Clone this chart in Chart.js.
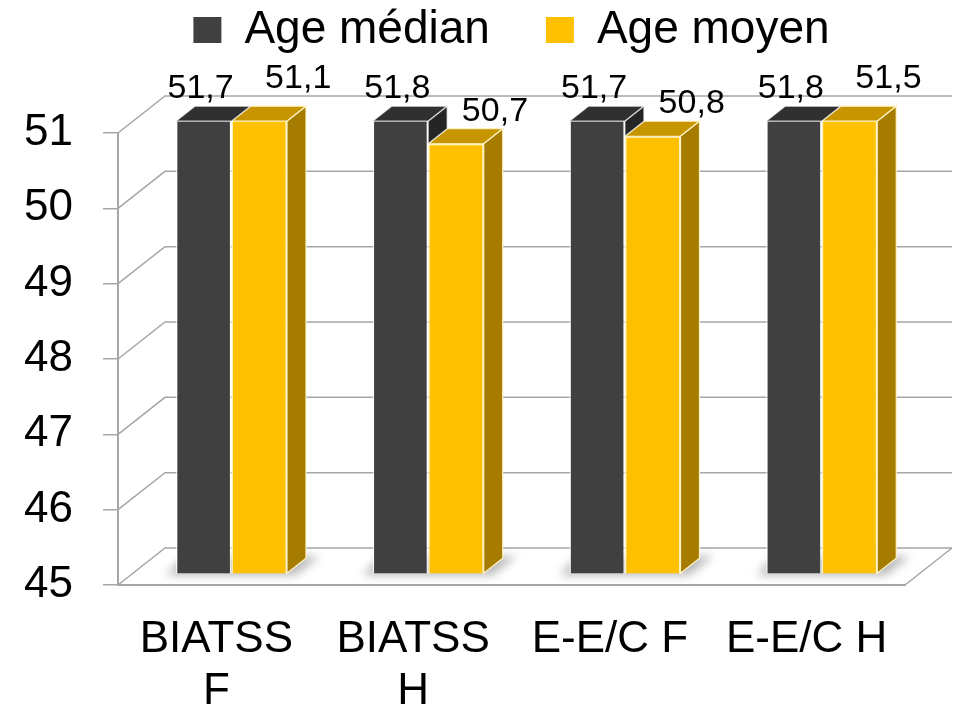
<!DOCTYPE html>
<html>
<head>
<meta charset="utf-8">
<script src="https://cdn.jsdelivr.net/npm/chart.js@4/dist/chart.umd.min.js"></script>
<style>
  html, body { margin: 0; padding: 0; background: #fff; }
  canvas { display: block; }
</style>
</head>
<body>
<canvas id="ageChart" width="955" height="707"></canvas>
<script>
const categories = [['BIATSS', 'F'], ['BIATSS', 'H'], 'E-E/C F', 'E-E/C H'];
const seriesNames = ['Age médian', 'Age moyen'];
const medianAges = [51.7, 51.8, 51.7, 51.8];
const meanAges = [51.1, 50.7, 50.8, 51.5];
const yTicks = [45, 46, 47, 48, 49, 50, 51];

const FONT = '"Liberation Sans", Arial, sans-serif';
const GRID = '#a6a6a6';
const WALL = { x: 47, y: -37 };        // depth of the 3D box
const BAR_SHIFT = 0.32;                // bars stand a third of the way back
const BAR_DEPTH = { x: 19, y: -15 };
const LEGEND_GAP = 70;
const LABEL_DX = [-3, 39];
const LABEL_LIFT = [0, 10];            // extra lift for clipped yellow bars

const faces = [
    { front: '#404040', top: '#303030', side: '#252525', edge: 'rgba(255,255,255,0.7)' },
    { front: '#ffc000', top: '#c79500', side: '#a57b00', edge: '#fff4c4' }
];

function poly(ctx, pts, fill, stroke) {
    ctx.beginPath();
    pts.forEach(([x, y], i) => i ? ctx.lineTo(x, y) : ctx.moveTo(x, y));
    ctx.closePath();
    ctx.fillStyle = fill;
    ctx.fill();
    if (stroke) {
        ctx.strokeStyle = stroke;
        ctx.lineWidth = 1.2;
        ctx.stroke();
    }
}

const box3d = {
    id: 'box3d',
    beforeInit: chart => {
        // leave room under the legend for the value labels
        const fit = chart.legend.fit;
        chart.legend.fit = function () {
            fit.call(this);
            this.height += LEGEND_GAP;
        };
    },
    beforeDatasetsDraw: chart => {
        const ctx = chart.ctx;
        const a = chart.chartArea;
        const y = chart.scales.y;

        ctx.save();
        ctx.strokeStyle = GRID;
        ctx.lineWidth = 1.5;
        ctx.beginPath();
        yTicks.forEach(v => {
            const py = y.getPixelForValue(v);
            ctx.moveTo(a.left, py);
            ctx.lineTo(a.left + WALL.x, py + WALL.y);
            ctx.lineTo(a.right + WALL.x, py + WALL.y);
        });
        ctx.moveTo(a.right, a.bottom);
        ctx.lineTo(a.right + WALL.x, a.bottom + WALL.y);
        ctx.stroke();

        // soft shadows on the floor
        const sx = WALL.x * BAR_SHIFT, sy = WALL.y * BAR_SHIFT;
        const dark = chart.getDatasetMeta(0).data;
        const gold = chart.getDatasetMeta(1).data;
        ctx.filter = 'blur(5px)';
        dark.forEach((bar, i) => {
            const l = bar.x - bar.width / 2 + sx - 10;
            const r = gold[i].x + gold[i].width / 2 + sx + 8;
            const b = a.bottom + sy + 2;
            poly(ctx, [[l, b], [r, b], [r + BAR_DEPTH.x + 6, b + BAR_DEPTH.y - 4], [l + BAR_DEPTH.x, b + BAR_DEPTH.y - 4]],
                'rgba(0,0,0,0.28)');
        });
        ctx.restore();
    },
    beforeDatasetDraw: chart => {
        chart.ctx.save();
        chart.ctx.translate(WALL.x * BAR_SHIFT, WALL.y * BAR_SHIFT);
    },
    afterDatasetDraw: (chart, args) => {
        const ctx = chart.ctx;
        const a = chart.chartArea;
        const c = faces[args.index];
        const dx = BAR_DEPTH.x, dy = BAR_DEPTH.y;
        // the bar standing to the right hides the lower part of the side face
        const next = args.index === 0 ? chart.getDatasetMeta(1).data : null;

        args.meta.data.forEach((bar, i) => {
            const top = Math.max(bar.y, a.top);
            const l = bar.x - bar.width / 2, r = bar.x + bar.width / 2;
            const b = next ? Math.max(next[i].y, a.top) : Math.min(bar.base, a.bottom);
            poly(ctx, [[l, top], [r, top], [r + dx, top + dy], [l + dx, top + dy]], c.top, c.edge);
            if (b > top) {
                poly(ctx, [[r, top], [r + dx, top + dy], [r + dx, b + dy], [r, b]], c.side, c.edge);
            }
        });
        ctx.restore();
    },
    afterDatasetsDraw: chart => {
        const ctx = chart.ctx;
        const y = chart.scales.y;
        const sx = WALL.x * BAR_SHIFT;

        ctx.save();
        ctx.font = '34px ' + FONT;
        ctx.fillStyle = '#000';
        ctx.textAlign = 'center';
        ctx.textBaseline = 'middle';
        [medianAges, meanAges].forEach((values, di) => {
            chart.getDatasetMeta(di).data.forEach((bar, i) => {
                const v = values[i];
                const py = y.getPixelForValue(Math.min(v, y.max));
                const lift = v > y.max ? LABEL_LIFT[di] : 0;
                ctx.fillText(v.toFixed(1).replace('.', ','), bar.x + sx + LABEL_DX[di], py - 44 - lift);
            });
        });
        ctx.restore();
    }
};

const chart = new Chart(document.getElementById('ageChart'), {
    type: 'bar',
    data: {
        labels: categories,
        datasets: [{
            label: seriesNames[0],
            data: medianAges,
            backgroundColor: faces[0].front,
            borderColor: faces[0].edge,
            borderWidth: 1.5
        }, {
            label: seriesNames[1],
            data: meanAges,
            backgroundColor: faces[1].front,
            borderColor: faces[1].edge,
            borderWidth: 1.5
        }]
    },
    options: {
        responsive: false,
        animation: false,
        layout: { padding: { top: -49, left: 0, right: 50, bottom: 0 } },
        datasets: { bar: { categoryPercentage: 0.565, barPercentage: 1 } },
        plugins: {
            legend: {
                fullSize: false,
                labels: {
                    color: '#000',
                    font: { size: 46, family: FONT },
                    boxWidth: 28,
                    boxHeight: 26,
                    padding: 56,
                    generateLabels: c => Chart.defaults.plugins.legend.labels.generateLabels(c)
                        .map(item => ({ ...item, lineWidth: 0 }))
                }
            },
            tooltip: { enabled: false }
        },
        scales: {
            x: {
                grid: { display: false, drawTicks: false },
                border: { display: true, color: GRID, width: 2 },
                ticks: {
                    color: '#000',
                    font: { size: 44, family: FONT, lineHeight: 1.2 },
                    padding: 28,
                    maxRotation: 0,
                    autoSkip: false
                },
                afterFit: s => { s.height = 122; }
            },
            y: {
                min: yTicks[0],
                max: yTicks[yTicks.length - 1],
                grid: { drawOnChartArea: false, color: GRID, lineWidth: 1.5, tickLength: 15 },
                border: { display: true, color: GRID, width: 2 },
                ticks: {
                    stepSize: 1,
                    autoSkip: false,
                    color: '#000',
                    font: { size: 44, family: FONT },
                    padding: 30
                },
                afterFit: s => { s.width = 118; }
            }
        }
    },
    plugins: [box3d]
});
</script>
</body>
</html>
